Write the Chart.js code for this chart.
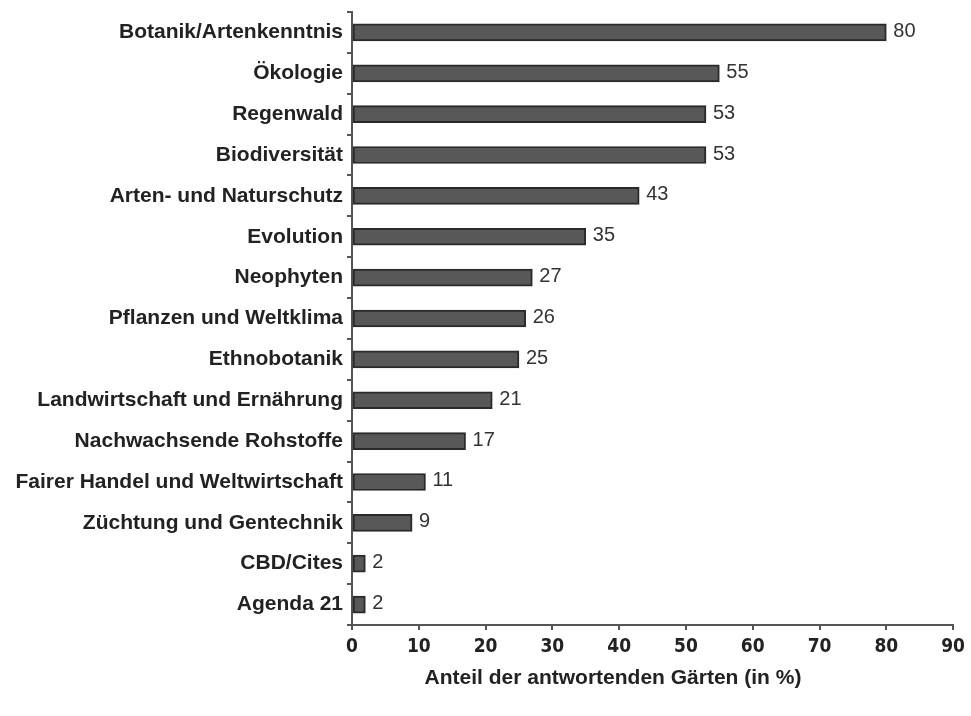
<!DOCTYPE html>
<html>
<head>
<meta charset="utf-8">
<script src="https://cdn.jsdelivr.net/npm/chart.js@4/dist/chart.umd.min.js"></script>
<style>
  html, body { margin: 0; padding: 0; background: #fff; }
  canvas { display: block; }
</style>
</head>
<body>
<canvas id="chart" width="971" height="716"></canvas>
<script>
// Daten
const themen = [
    'Botanik/Artenkenntnis', 'Ökologie', 'Regenwald', 'Biodiversität',
    'Arten- und Naturschutz', 'Evolution', 'Neophyten', 'Pflanzen und Weltklima',
    'Ethnobotanik', 'Landwirtschaft und Ernährung', 'Nachwachsende Rohstoffe',
    'Fairer Handel und Weltwirtschaft', 'Züchtung und Gentechnik', 'CBD/Cites', 'Agenda 21'
];
const anteile = [80, 55, 53, 53, 43, 35, 27, 26, 25, 21, 17, 11, 9, 2, 2];
const xTicks = [0, 10, 20, 30, 40, 50, 60, 70, 80, 90];
const achsenTitel = 'Anteil der antwortenden Gärten (in %)';

// Werte rechts neben den Balken
const valueLabels = {
    id: 'valueLabels',
    afterDatasetsDraw(chart) {
        const ctx = chart.ctx;
        const meta = chart.getDatasetMeta(0);
        ctx.save();
        ctx.font = '20px "Liberation Sans", Arial, sans-serif';
        ctx.fillStyle = '#333';
        ctx.textBaseline = 'middle';
        ctx.textAlign = 'left';
        meta.data.forEach((bar, i) => {
            ctx.fillText(String(anteile[i]), bar.x + 7, bar.y - 1);
        });
        ctx.restore();
    }
};

// Achsentitel (leicht links versetzt wie im Original)
const xTitle = {
    id: 'xTitle',
    afterDraw(chart) {
        const ctx = chart.ctx;
        ctx.save();
        ctx.font = 'bold 21px "Liberation Sans", Arial, sans-serif';
        ctx.fillStyle = '#222';
        ctx.textAlign = 'center';
        ctx.textBaseline = 'middle';
        ctx.fillText(achsenTitel, 613, 678);
        ctx.restore();
    }
};

new Chart(document.getElementById('chart'), {
    type: 'bar',
    data: {
        labels: themen,
        datasets: [{
            data: anteile,
            backgroundColor: '#585858',
            borderColor: '#2a2a2a',
            borderWidth: 2,
            borderSkipped: false,
            barThickness: 17
        }]
    },
    options: {
        indexAxis: 'y',
        responsive: false,
        animation: false,
        maintainAspectRatio: false,
        layout: { padding: { top: 12, right: 16, left: 0, bottom: 0 } },
        plugins: {
            legend: { display: false },
            tooltip: { enabled: false }
        },
        scales: {
            x: {
                min: 0,
                max: 90,
                afterBuildTicks(axis) {
                    axis.ticks = xTicks.map(v => ({ value: v }));
                },
                afterFit(axis) { axis.height = 91; },
                border: { display: true, color: '#555', width: 2 },
                grid: { drawOnChartArea: false, drawTicks: true, tickLength: 5, color: '#555', lineWidth: 2 },
                ticks: {
                    color: '#222',
                    padding: 6,
                    font: { family: '"Liberation Sans Narrow", "DejaVu Sans Condensed", Arial, sans-serif', size: 19, weight: 'bold' }
                }
            },
            y: {
                afterFit(axis) {
                    axis.width = 352;
                    axis.paddingTop = 0;
                    axis.paddingBottom = 0;
                },
                border: { display: true, color: '#555', width: 2 },
                grid: { drawOnChartArea: false, drawTicks: true, tickLength: 5, color: '#555', lineWidth: 2, offset: true },
                ticks: {
                    color: '#222',
                    padding: 4,
                    font: { family: '"Liberation Sans", Arial, sans-serif', size: 21, weight: 'bold' }
                }
            }
        }
    },
    plugins: [valueLabels, xTitle]
});
</script>
</body>
</html>
